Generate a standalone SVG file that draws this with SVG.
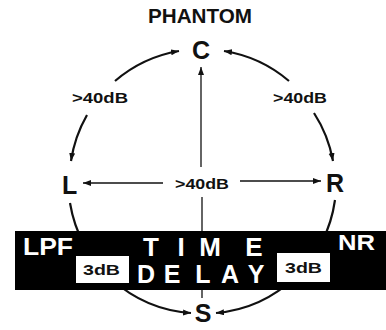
<svg xmlns="http://www.w3.org/2000/svg" width="386" height="330" viewBox="0 0 386 330">
<style>
text{font-family:"Liberation Sans",Arial,sans-serif;font-weight:bold}
.node{font-size:25px;fill:#111}
.lab{font-size:14px;fill:#111}
.arc{fill:none;stroke:#111;stroke-width:2.2}
.ln{fill:none;stroke:#111;stroke-width:1.3}
.w{fill:#fff}
</style>
<defs>
<marker id="ah" markerUnits="userSpaceOnUse" markerWidth="9" markerHeight="7" refX="8" refY="3" orient="auto">
<path d="M0,0 L8,3 L0,6 z" fill="#111"/>
</marker>
</defs>
<rect width="386" height="330" fill="#fff"/>
<text x="200" y="23" font-size="20" text-anchor="middle" fill="#111" textLength="104" lengthAdjust="spacingAndGlyphs">PHANTOM</text>
<g id="connectors">
<path class="arc" d="M115,81 A132,132 0 0 1 179,51" marker-end="url(#ah)"/>
<path class="arc" d="M289,81 A132,132 0 0 0 224,51" marker-end="url(#ah)"/>
<path class="arc" d="M87,115 A132,132 0 0 0 71,161" marker-end="url(#ah)"/>
<path class="arc" d="M314,113 A132,132 0 0 1 333,161" marker-end="url(#ah)"/>
<path class="arc" d="M70,203 A132,132 0 0 0 191,313" marker-end="url(#ah)"/>
<path class="arc" d="M335,200 A132,132 0 0 1 216,313" marker-end="url(#ah)"/>
<path class="ln" d="M201,167 L201,67" marker-end="url(#ah)"/>
<path class="ln" d="M202,197 L202,298"/>
<path class="ln" d="M163,183 L83,183" marker-end="url(#ah)"/>
<path class="ln" d="M240,181 L321,181" marker-end="url(#ah)"/>
</g>
<g id="labels">
<text class="lab" x="72" y="103" textLength="56" lengthAdjust="spacingAndGlyphs">&gt;40dB</text>
<text class="lab" x="273" y="103" textLength="54" lengthAdjust="spacingAndGlyphs">&gt;40dB</text>
<text class="lab" x="175" y="189" textLength="54" lengthAdjust="spacingAndGlyphs">&gt;40dB</text>
</g>
<g id="C"><text class="node" x="201" y="59" text-anchor="middle">C</text></g>
<g id="L"><text class="node" x="62" y="194">L</text></g>
<g id="R"><text class="node" x="326" y="192">R</text></g>
<g id="S"><text class="node" x="203" y="322" text-anchor="middle">S</text></g>
<g id="band">
<rect x="15" y="231" width="371" height="59" fill="#000"/>
<text class="w" x="23" y="255" font-size="23" textLength="50" lengthAdjust="spacingAndGlyphs">LPF</text>
<text class="w" x="338" y="250" font-size="22" textLength="37" lengthAdjust="spacingAndGlyphs">NR</text>
<text class="w" font-size="26" text-anchor="middle" x="151 181 210 254" y="256">TIME</text>
<text class="w" font-size="25" text-anchor="middle" x="146 172 203 230 256" y="283">DELAY</text>
<g id="att-left">
<rect x="76" y="256" width="53" height="27" fill="#fff"/>
<text x="83" y="275" font-size="14" fill="#111" textLength="37" lengthAdjust="spacingAndGlyphs">3dB</text>
</g>
<g id="att-right">
<rect x="277" y="253" width="53" height="29" fill="#fff"/>
<text x="285" y="273" font-size="14" fill="#111" textLength="37" lengthAdjust="spacingAndGlyphs">3dB</text>
</g>
</g>
</svg>
